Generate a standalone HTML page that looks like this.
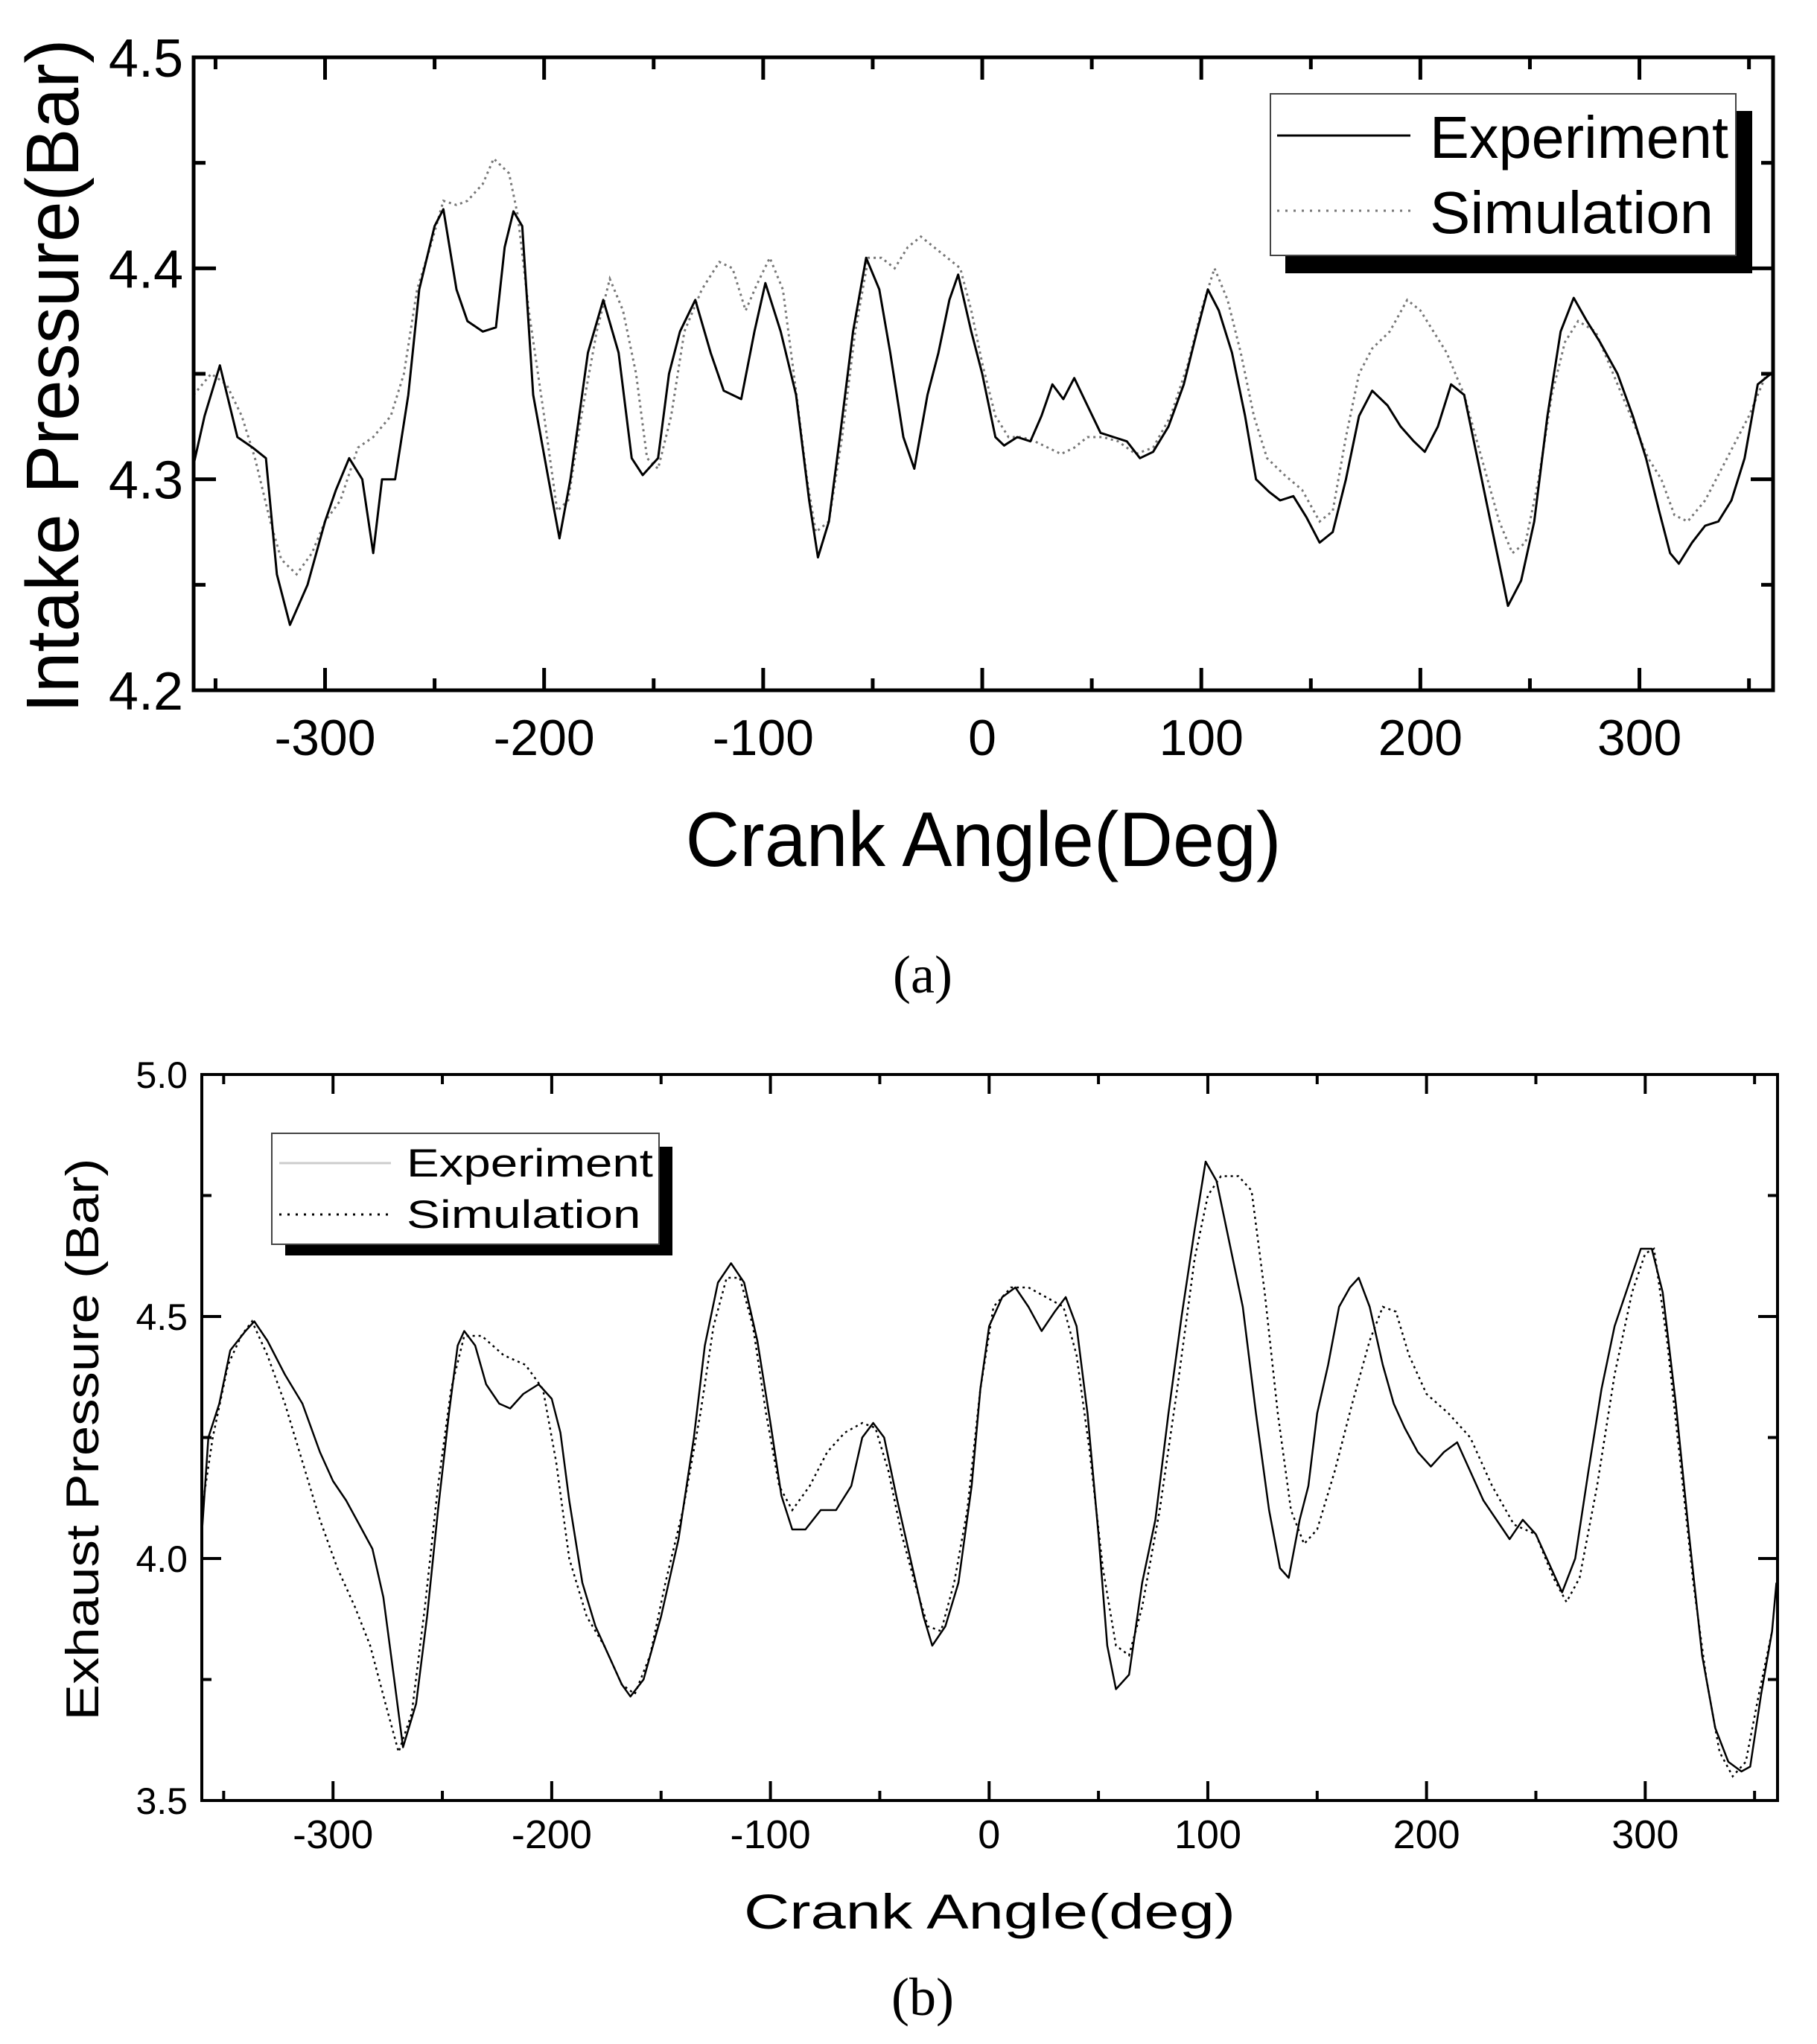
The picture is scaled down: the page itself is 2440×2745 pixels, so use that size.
<!DOCTYPE html>
<html><head><meta charset="utf-8"><style>
html,body{margin:0;padding:0;background:#fff}
svg{display:block}
text{font-family:"Liberation Sans",sans-serif;fill:#000}
</style></head><body>
<svg id="fig" width="2440" height="2745" viewBox="0 0 2440 2745" xmlns="http://www.w3.org/2000/svg">
<rect width="2440" height="2745" fill="#fff"/>
<g id="chartA"></g>
<g id="chartB"></g>
<text x="1239" y="1333" text-anchor="middle" style="font-family:'Liberation Serif',serif;font-size:72px">(a)</text>
<text x="1239" y="2706" text-anchor="middle" style="font-family:'Liberation Serif',serif;font-size:72px">(b)</text>
</svg>
<script>
const aExpX=[-360,-355,-348,-340,-333,-327,-322,-316,-308,-300,-295,-289,-283,-278,-274,-268,-262,-257,-250,-246,-240,-235,-228,-222,-218,-214,-210,-205,-198,-193,-188,-180,-173,-166,-160,-155,-148,-143,-138,-131,-124,-118,-110,-104,-99,-92,-85,-79,-75,-70,-65,-59,-53,-47,-42,-36,-31,-25,-20,-15,-11,-5,0,6,10,16,22,27,32,37,42,48,54,60,66,72,78,85,92,98,103,108,114,120,125,131,136,142,148,154,160,166,172,178,185,191,197,202,208,214,220,226,232,238,240,246,252,258,264,270,276,282,290,297,303,309,314,318,324,330,336,342,348,354,360];
const aExpY=[4.307,4.33,4.354,4.32,4.315,4.31,4.255,4.231,4.25,4.28,4.295,4.31,4.30,4.265,4.30,4.30,4.34,4.39,4.42,4.428,4.39,4.375,4.37,4.372,4.41,4.427,4.42,4.34,4.30,4.272,4.30,4.36,4.385,4.36,4.31,4.302,4.31,4.35,4.37,4.385,4.36,4.342,4.338,4.37,4.393,4.37,4.34,4.29,4.263,4.28,4.32,4.37,4.405,4.39,4.36,4.32,4.305,4.34,4.36,4.385,4.397,4.37,4.35,4.32,4.316,4.32,4.318,4.33,4.345,4.338,4.348,4.335,4.322,4.32,4.318,4.31,4.313,4.325,4.345,4.37,4.39,4.38,4.36,4.33,4.30,4.294,4.29,4.292,4.282,4.27,4.275,4.30,4.33,4.342,4.335,4.325,4.318,4.313,4.325,4.345,4.34,4.31,4.28,4.25,4.24,4.252,4.28,4.33,4.37,4.386,4.375,4.365,4.35,4.33,4.31,4.285,4.265,4.26,4.27,4.278,4.28,4.29,4.31,4.345,4.35];
const aSimX=[-360,-352,-345,-338,-332,-325,-320,-313,-306,-300,-293,-285,-278,-270,-264,-258,-252,-246,-240,-235,-228,-223,-216,-212,-207,-200,-194,-189,-183,-176,-170,-164,-158,-153,-148,-142,-136,-128,-120,-114,-108,-103,-97,-91,-86,-80,-76,-70,-64,-58,-52,-46,-40,-34,-28,-22,-16,-10,-5,0,6,12,18,24,30,36,42,48,55,62,70,78,86,94,100,106,112,118,124,130,138,146,154,160,166,172,178,186,194,200,206,212,220,228,236,242,248,254,260,266,272,280,288,296,304,310,316,322,330,340,350,358];
const aSimY=[4.34,4.35,4.345,4.33,4.31,4.28,4.262,4.255,4.265,4.28,4.29,4.315,4.32,4.33,4.35,4.39,4.41,4.432,4.43,4.432,4.44,4.452,4.445,4.425,4.38,4.33,4.285,4.29,4.33,4.37,4.395,4.38,4.35,4.31,4.305,4.33,4.37,4.39,4.403,4.40,4.38,4.392,4.405,4.39,4.35,4.30,4.275,4.28,4.32,4.37,4.405,4.405,4.40,4.41,4.415,4.41,4.405,4.40,4.38,4.355,4.33,4.32,4.32,4.318,4.315,4.312,4.315,4.32,4.32,4.318,4.312,4.315,4.33,4.355,4.38,4.40,4.385,4.36,4.33,4.31,4.302,4.295,4.28,4.285,4.32,4.35,4.362,4.37,4.385,4.38,4.37,4.36,4.34,4.31,4.28,4.265,4.27,4.30,4.34,4.365,4.375,4.37,4.35,4.33,4.31,4.30,4.283,4.28,4.29,4.31,4.33,4.35];
const bExpX=[-360,-357,-352,-347,-340,-336,-330,-322,-314,-306,-300,-294,-288,-282,-277,-272,-268,-262,-257,-252,-247,-243,-240,-235,-230,-224,-219,-213,-206,-200,-196,-192,-186,-180,-174,-168,-164,-158,-150,-142,-135,-130,-124,-118,-112,-106,-100,-95,-90,-84,-77,-70,-63,-58,-53,-48,-42,-36,-30,-26,-20,-14,-8,-4,0,6,12,18,24,30,35,40,45,50,54,58,64,70,76,82,88,94,99,104,110,116,122,128,133,137,142,146,150,155,160,165,169,174,180,185,190,196,202,208,214,220,226,232,238,244,250,256,262,268,274,280,286,292,298,303,308,314,320,326,332,338,344,348,353,358,360];
const bExpY=[4.05,4.25,4.32,4.43,4.47,4.49,4.45,4.38,4.32,4.22,4.16,4.12,4.07,4.02,3.92,3.75,3.61,3.70,3.88,4.10,4.30,4.44,4.47,4.44,4.36,4.32,4.31,4.34,4.36,4.33,4.26,4.12,3.95,3.86,3.80,3.74,3.715,3.75,3.88,4.04,4.25,4.44,4.57,4.61,4.57,4.45,4.28,4.13,4.06,4.06,4.10,4.10,4.15,4.25,4.28,4.25,4.12,4.00,3.88,3.82,3.86,3.95,4.15,4.35,4.48,4.54,4.56,4.52,4.47,4.51,4.54,4.48,4.30,4.05,3.82,3.73,3.76,3.95,4.08,4.30,4.50,4.68,4.82,4.78,4.65,4.52,4.30,4.10,3.98,3.96,4.08,4.15,4.30,4.40,4.52,4.56,4.58,4.52,4.40,4.32,4.27,4.22,4.19,4.22,4.24,4.18,4.12,4.08,4.04,4.08,4.05,3.99,3.93,4.00,4.18,4.35,4.48,4.56,4.64,4.64,4.55,4.32,4.05,3.80,3.65,3.58,3.56,3.57,3.72,3.85,3.95];
const bSimX=[-360,-355,-348,-342,-337,-330,-322,-314,-306,-298,-290,-283,-276,-270,-264,-258,-252,-246,-240,-232,-222,-212,-204,-198,-192,-184,-176,-168,-162,-155,-148,-140,-132,-126,-120,-114,-108,-102,-96,-90,-82,-74,-66,-58,-52,-46,-40,-34,-28,-22,-16,-10,-4,2,10,18,26,34,40,46,52,58,64,70,78,86,94,100,106,114,120,126,132,138,144,150,158,166,174,180,186,192,200,210,220,230,240,250,258,264,270,278,286,294,300,304,310,316,322,328,334,340,346,352,358];
const bSimY=[4.10,4.25,4.40,4.46,4.49,4.42,4.32,4.20,4.08,3.98,3.90,3.82,3.70,3.60,3.68,3.90,4.15,4.35,4.46,4.46,4.42,4.40,4.35,4.20,4.00,3.88,3.82,3.74,3.72,3.80,3.95,4.10,4.30,4.48,4.58,4.58,4.48,4.30,4.15,4.10,4.15,4.22,4.26,4.28,4.27,4.18,4.05,3.95,3.86,3.85,3.95,4.10,4.35,4.52,4.56,4.56,4.54,4.52,4.42,4.22,3.98,3.82,3.80,3.90,4.10,4.35,4.62,4.75,4.79,4.79,4.76,4.55,4.30,4.10,4.03,4.06,4.18,4.32,4.45,4.52,4.51,4.42,4.34,4.30,4.25,4.15,4.07,4.05,3.96,3.91,3.96,4.15,4.38,4.55,4.63,4.64,4.45,4.20,3.95,3.75,3.60,3.55,3.58,3.72,3.85];
const xTicks=[-300,-200,-100,0,100,200,300];
const aYTicks=["4.2","4.3","4.4","4.5"];
const bYTicks=["3.5","4.0","4.5","5.0"];

const NS="http://www.w3.org/2000/svg";
function mk(parent,tag,attrs,txt){const e=document.createElementNS(NS,tag);for(const k in attrs)e.setAttribute(k,attrs[k]);if(txt!==undefined)e.textContent=txt;parent.appendChild(e);return e;}

function drawChart(g,cfg){
  const sx=v=>cfg.L+(v-cfg.xmin)*(cfg.R-cfg.L)/(cfg.xmax-cfg.xmin);
  const sy=v=>cfg.B-(v-cfg.ymin)*(cfg.B-cfg.T)/(cfg.ymax-cfg.ymin);
  for(let v=-350;v<=350;v+=50){
    const major=v%100===0;const len=major?cfg.maj:cfg.min;const x=sx(v);
    let t=mk(g,'line',{x1:x,y1:cfg.B,x2:x,y2:cfg.B-len,stroke:'#000','stroke-width':cfg.tw});
    
    t=mk(g,'line',{x1:x,y1:cfg.T,x2:x,y2:cfg.T+len,stroke:'#000','stroke-width':cfg.tw});
    
  }
  xTicks.forEach(v=>{const t=mk(g,'text',{x:sx(v),y:cfg.xlY,'text-anchor':'middle','font-size':cfg.tf},String(v));
    });
  const step=(cfg.ymax-cfg.ymin)/6;
  for(let i=0;i<=6;i++){const v=cfg.ymin+i*step;const y=sy(v);const len=i%2===0?cfg.maj:cfg.min;
    let t=mk(g,'line',{x1:cfg.L,y1:y,x2:cfg.L+len,y2:y,stroke:'#000','stroke-width':cfg.tw});
    
    t=mk(g,'line',{x1:cfg.R,y1:y,x2:cfg.R-len,y2:y,stroke:'#000','stroke-width':cfg.tw});
    }
  cfg.yt.forEach(s=>{const t=mk(g,'text',{x:cfg.ylX,y:sy(parseFloat(s))+cfg.ytf*0.36,'text-anchor':'end','font-size':cfg.ytf},s);
    });
  const path=(xs,ys)=>xs.map((x,i)=>(i?'L':'M')+sx(x).toFixed(1)+' '+sy(ys[i]).toFixed(1)).join(' ');
  let p=mk(g,'path',{d:path(cfg.sX,cfg.sY),fill:'none',stroke:cfg.simCol,'stroke-width':cfg.lw,'stroke-dasharray':'3 5'});
  
  p=mk(g,'path',{d:path(cfg.eX,cfg.eY),fill:'none',stroke:'#000','stroke-width':cfg.lw,'stroke-linejoin':'round'});
  
  const f=mk(g,'rect',{x:cfg.L,y:cfg.T,width:cfg.R-cfg.L,height:cfg.B-cfg.T,fill:'none',stroke:'#000','stroke-width':cfg.fw});
  
  let t=mk(g,'text',{x:(cfg.L+cfg.R)/2,y:cfg.xtY,'text-anchor':'middle','font-size':cfg.xtF,textLength:cfg.xtLen,lengthAdjust:'spacingAndGlyphs'},cfg.xt);
  
  t=mk(g,'text',{x:0,y:0,'text-anchor':'middle','font-size':cfg.ytF,textLength:cfg.ytLen,lengthAdjust:'spacingAndGlyphs',transform:`translate(${cfg.ytX},${cfg.ytY}) rotate(-90)`},cfg.ytitle);
  
  const lg=mk(g,'g',{});
  const L=cfg.leg;
  mk(lg,'rect',{x:L.sx,y:L.sy,width:L.sr-L.sx,height:L.sb-L.sy,fill:'#000'});
  mk(lg,'rect',{x:L.x,y:L.y,width:L.w,height:L.h,fill:'#fff',stroke:'#444','stroke-width':2});
  mk(lg,'line',{x1:L.lx1,x2:L.lx2,y1:L.ly1,y2:L.ly1,stroke:L.expCol,'stroke-width':3});
  mk(lg,'line',{x1:L.lx1,x2:L.lx2,y1:L.ly2,y2:L.ly2,stroke:cfg.simCol,'stroke-width':3,'stroke-dasharray':'3 8'});
  t=mk(lg,'text',{x:L.tx,y:L.ty1,'font-size':L.f,textLength:L.tl,lengthAdjust:'spacingAndGlyphs'},'Experiment');
  
  t=mk(lg,'text',{x:L.tx,y:L.ty2,'font-size':L.f,textLength:L.tl*0.95,lengthAdjust:'spacingAndGlyphs'},'Simulation');
  
}

drawChart(document.getElementById('chartA'),{L:260,R:2381,T:77,B:927,xmin:-360,xmax:361,ymin:4.2,ymax:4.5,
  maj:30,min:16,tw:5,fw:5,lw:3,tf:68,ytf:72,xlY:1014,ylX:246,yt:aYTicks,
  eX:aExpX,eY:aExpY,sX:aSimX,sY:aSimY,simCol:'#777',
  xt:'Crank Angle(Deg)',xtY:1163,xtF:104,xtLen:800,
  ytitle:'Intake Pressure(Bar)',ytX:105,ytY:505,ytF:100,ytLen:905,
  leg:{x:1706,y:126,w:625,h:217,sx:1726,sy:149,sr:2353,sb:367,lx1:1715,lx2:1894,ly1:182,ly2:283,tx:1920,ty1:212,ty2:313,f:80,tl:401,expCol:'#000'}});

drawChart(document.getElementById('chartB'),{L:271,R:2387,T:1443,B:2418,xmin:-360,xmax:360.5,ymin:3.5,ymax:5.0,
  maj:26,min:13,tw:4,fw:4,lw:2.5,tf:54,ytf:50,xlY:2482,ylX:252,yt:bYTicks,
  eX:bExpX,eY:bExpY,sX:bSimX,sY:bSimY,simCol:'#000',
  xt:'Crank Angle(deg)',xtY:2590,xtF:66,xtLen:660,
  ytitle:'Exhaust Pressure (Bar)',ytX:132,ytY:1933,ytF:62,ytLen:755,
  leg:{x:365,y:1522,w:520,h:149,sx:383,sy:1540,sr:903,sb:1686,lx1:375,lx2:525,ly1:1562,ly2:1631,tx:546,ty1:1580,ty2:1649,f:53,tl:331,expCol:'#ccc'}});
</script>
</body></html>
